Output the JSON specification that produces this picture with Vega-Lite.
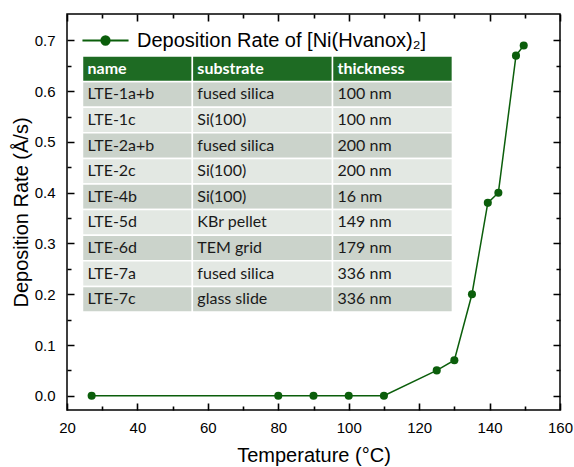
{
  "$schema": "https://vega.github.io/schema/vega-lite/v6.json",
  "width": 493,
  "height": 396,
  "autosize": {"type": "none"},
  "padding": {"left": 67, "top": 14, "right": 14, "bottom": 57},
  "background": "white",
  "config": {
    "view": {"stroke": "#000", "strokeWidth": 1.5},
    "axis": {"domain": false, "labelFont": "Liberation Sans", "labelFontSize": 15, "labelColor": "#000", "titleFont": "Liberation Sans", "titleFontSize": 20, "titleFontWeight": "normal", "titleColor": "#000"}
  },
  "datasets": {
    "rate": [
      {"temperature": 27, "rate": 0, "series": "Deposition Rate of [Ni(Hvanox)₂]"},
      {"temperature": 80, "rate": 0, "series": "Deposition Rate of [Ni(Hvanox)₂]"},
      {"temperature": 90, "rate": 0, "series": "Deposition Rate of [Ni(Hvanox)₂]"},
      {"temperature": 100, "rate": 0, "series": "Deposition Rate of [Ni(Hvanox)₂]"},
      {"temperature": 110, "rate": 0, "series": "Deposition Rate of [Ni(Hvanox)₂]"},
      {"temperature": 125, "rate": 0.05, "series": "Deposition Rate of [Ni(Hvanox)₂]"},
      {"temperature": 130, "rate": 0.07, "series": "Deposition Rate of [Ni(Hvanox)₂]"},
      {"temperature": 135, "rate": 0.2, "series": "Deposition Rate of [Ni(Hvanox)₂]"},
      {"temperature": 139.5, "rate": 0.38, "series": "Deposition Rate of [Ni(Hvanox)₂]"},
      {"temperature": 142.5, "rate": 0.4, "series": "Deposition Rate of [Ni(Hvanox)₂]"},
      {"temperature": 147.5, "rate": 0.67, "series": "Deposition Rate of [Ni(Hvanox)₂]"},
      {"temperature": 149.7, "rate": 0.69, "series": "Deposition Rate of [Ni(Hvanox)₂]"}
    ],
    "samples": [
      {"name": "LTE-1a+b", "substrate": "fused silica", "thickness": "100 nm"},
      {"name": "LTE-1c", "substrate": "Si(100)", "thickness": "100 nm"},
      {"name": "LTE-2a+b", "substrate": "fused silica", "thickness": "200 nm"},
      {"name": "LTE-2c", "substrate": "Si(100)", "thickness": "200 nm"},
      {"name": "LTE-4b", "substrate": "Si(100)", "thickness": "16 nm"},
      {"name": "LTE-5d", "substrate": "KBr pellet", "thickness": "149 nm"},
      {"name": "LTE-6d", "substrate": "TEM grid", "thickness": "179 nm"},
      {"name": "LTE-7a", "substrate": "fused silica", "thickness": "336 nm"},
      {"name": "LTE-7c", "substrate": "glass slide", "thickness": "336 nm"}
    ]
  },
  "layer": [
    {
      "encoding": {"x": {"datum": 24.4, "type": "quantitative", "axis": null}},
      "layer": [
        {"data": {"name": "samples"}, "mark": {"type": "rect", "stroke": "white", "strokeWidth": 1.5},
         "encoding": {"x2": {"datum": 55.6},
           "y": {"field": "name", "type": "nominal", "axis": null, "scale": {"type": "band", "domain": ["header", "LTE-1a+b", "LTE-1c", "LTE-2a+b", "LTE-2c", "LTE-4b", "LTE-5d", "LTE-6d", "LTE-7a", "LTE-7c"], "range": [42, 298], "paddingInner": 0, "paddingOuter": 0}},
           "fill": {"field": "name", "type": "nominal", "legend": null, "scale": {"domain": ["LTE-1a+b", "LTE-1c", "LTE-2a+b", "LTE-2c", "LTE-4b", "LTE-5d", "LTE-6d", "LTE-7a", "LTE-7c"], "range": ["#cbd3cb", "#e3e8e3"]}}}},
        {"data": {"name": "samples"}, "mark": {"type": "text", "align": "left", "baseline": "middle", "dx": 5, "font": "Lato", "fontSize": 16, "color": "#1a1a1a"},
         "encoding": {"y": {"field": "name", "type": "nominal", "axis": null, "scale": {"type": "band", "domain": ["header", "LTE-1a+b", "LTE-1c", "LTE-2a+b", "LTE-2c", "LTE-4b", "LTE-5d", "LTE-6d", "LTE-7a", "LTE-7c"], "range": [42, 298], "paddingInner": 0, "paddingOuter": 0}},
           "text": {"field": "name"}}},
        {"data": {"values": [{}]}, "mark": {"type": "rect", "fill": "#1e6b23", "stroke": "white", "strokeWidth": 1.5},
         "encoding": {"x2": {"datum": 55.6},
           "y": {"datum": "header", "type": "nominal", "axis": null, "scale": {"type": "band", "domain": ["header", "LTE-1a+b", "LTE-1c", "LTE-2a+b", "LTE-2c", "LTE-4b", "LTE-5d", "LTE-6d", "LTE-7a", "LTE-7c"], "range": [42, 298], "paddingInner": 0, "paddingOuter": 0}}}},
        {"data": {"values": [{}]}, "mark": {"type": "text", "text": "name", "align": "left", "baseline": "middle", "dx": 5, "font": "Lato", "fontWeight": "bold", "fontSize": 16, "color": "white"},
         "encoding": {"y": {"datum": "header", "type": "nominal", "axis": null, "scale": {"type": "band", "domain": ["header", "LTE-1a+b", "LTE-1c", "LTE-2a+b", "LTE-2c", "LTE-4b", "LTE-5d", "LTE-6d", "LTE-7a", "LTE-7c"], "range": [42, 298], "paddingInner": 0, "paddingOuter": 0}}}}
      ]
    },
    {
      "encoding": {"x": {"datum": 55.6, "type": "quantitative", "axis": null}},
      "layer": [
        {"data": {"name": "samples"}, "mark": {"type": "rect", "stroke": "white", "strokeWidth": 1.5},
         "encoding": {"x2": {"datum": 95.4},
           "y": {"field": "name", "type": "nominal", "axis": null, "scale": {"type": "band", "domain": ["header", "LTE-1a+b", "LTE-1c", "LTE-2a+b", "LTE-2c", "LTE-4b", "LTE-5d", "LTE-6d", "LTE-7a", "LTE-7c"], "range": [42, 298], "paddingInner": 0, "paddingOuter": 0}},
           "fill": {"field": "name", "type": "nominal", "legend": null, "scale": {"domain": ["LTE-1a+b", "LTE-1c", "LTE-2a+b", "LTE-2c", "LTE-4b", "LTE-5d", "LTE-6d", "LTE-7a", "LTE-7c"], "range": ["#cbd3cb", "#e3e8e3"]}}}},
        {"data": {"name": "samples"}, "mark": {"type": "text", "align": "left", "baseline": "middle", "dx": 5, "font": "Lato", "fontSize": 16, "color": "#1a1a1a"},
         "encoding": {"y": {"field": "name", "type": "nominal", "axis": null, "scale": {"type": "band", "domain": ["header", "LTE-1a+b", "LTE-1c", "LTE-2a+b", "LTE-2c", "LTE-4b", "LTE-5d", "LTE-6d", "LTE-7a", "LTE-7c"], "range": [42, 298], "paddingInner": 0, "paddingOuter": 0}},
           "text": {"field": "substrate"}}},
        {"data": {"values": [{}]}, "mark": {"type": "rect", "fill": "#1e6b23", "stroke": "white", "strokeWidth": 1.5},
         "encoding": {"x2": {"datum": 95.4},
           "y": {"datum": "header", "type": "nominal", "axis": null, "scale": {"type": "band", "domain": ["header", "LTE-1a+b", "LTE-1c", "LTE-2a+b", "LTE-2c", "LTE-4b", "LTE-5d", "LTE-6d", "LTE-7a", "LTE-7c"], "range": [42, 298], "paddingInner": 0, "paddingOuter": 0}}}},
        {"data": {"values": [{}]}, "mark": {"type": "text", "text": "substrate", "align": "left", "baseline": "middle", "dx": 5, "font": "Lato", "fontWeight": "bold", "fontSize": 16, "color": "white"},
         "encoding": {"y": {"datum": "header", "type": "nominal", "axis": null, "scale": {"type": "band", "domain": ["header", "LTE-1a+b", "LTE-1c", "LTE-2a+b", "LTE-2c", "LTE-4b", "LTE-5d", "LTE-6d", "LTE-7a", "LTE-7c"], "range": [42, 298], "paddingInner": 0, "paddingOuter": 0}}}}
      ]
    },
    {
      "encoding": {"x": {"datum": 95.4, "type": "quantitative", "axis": null}},
      "layer": [
        {"data": {"name": "samples"}, "mark": {"type": "rect", "stroke": "white", "strokeWidth": 1.5},
         "encoding": {"x2": {"datum": 129.45},
           "y": {"field": "name", "type": "nominal", "axis": null, "scale": {"type": "band", "domain": ["header", "LTE-1a+b", "LTE-1c", "LTE-2a+b", "LTE-2c", "LTE-4b", "LTE-5d", "LTE-6d", "LTE-7a", "LTE-7c"], "range": [42, 298], "paddingInner": 0, "paddingOuter": 0}},
           "fill": {"field": "name", "type": "nominal", "legend": null, "scale": {"domain": ["LTE-1a+b", "LTE-1c", "LTE-2a+b", "LTE-2c", "LTE-4b", "LTE-5d", "LTE-6d", "LTE-7a", "LTE-7c"], "range": ["#cbd3cb", "#e3e8e3"]}}}},
        {"data": {"name": "samples"}, "mark": {"type": "text", "align": "left", "baseline": "middle", "dx": 5, "font": "Lato", "fontSize": 16, "color": "#1a1a1a"},
         "encoding": {"y": {"field": "name", "type": "nominal", "axis": null, "scale": {"type": "band", "domain": ["header", "LTE-1a+b", "LTE-1c", "LTE-2a+b", "LTE-2c", "LTE-4b", "LTE-5d", "LTE-6d", "LTE-7a", "LTE-7c"], "range": [42, 298], "paddingInner": 0, "paddingOuter": 0}},
           "text": {"field": "thickness"}}},
        {"data": {"values": [{}]}, "mark": {"type": "rect", "fill": "#1e6b23", "stroke": "white", "strokeWidth": 1.5},
         "encoding": {"x2": {"datum": 129.45},
           "y": {"datum": "header", "type": "nominal", "axis": null, "scale": {"type": "band", "domain": ["header", "LTE-1a+b", "LTE-1c", "LTE-2a+b", "LTE-2c", "LTE-4b", "LTE-5d", "LTE-6d", "LTE-7a", "LTE-7c"], "range": [42, 298], "paddingInner": 0, "paddingOuter": 0}}}},
        {"data": {"values": [{}]}, "mark": {"type": "text", "text": "thickness", "align": "left", "baseline": "middle", "dx": 5, "font": "Lato", "fontWeight": "bold", "fontSize": 16, "color": "white"},
         "encoding": {"y": {"datum": "header", "type": "nominal", "axis": null, "scale": {"type": "band", "domain": ["header", "LTE-1a+b", "LTE-1c", "LTE-2a+b", "LTE-2c", "LTE-4b", "LTE-5d", "LTE-6d", "LTE-7a", "LTE-7c"], "range": [42, 298], "paddingInner": 0, "paddingOuter": 0}}}}
      ]
    },
    {
      "data": {"name": "rate"},
      "mark": {"type": "line", "strokeWidth": 1.5, "point": {"filled": true, "size": 65, "opacity": 1}},
      "encoding": {
        "x": {"field": "temperature", "type": "quantitative",
          "scale": {"domain": [20, 160], "nice": false, "zero": false},
          "axis": {"orient": "bottom", "zindex": 1, "values": [20, 30, 40, 50, 60, 70, 80, 90, 100, 110, 120, 130, 140, 150, 160],
            "ticks": false, "tickSize": 0,
            "grid": true, "gridColor": "#000", "gridOpacity": 1, "gridWidth": 1.6,
            "gridDash": {"condition": {"test": "datum.value % 20 === 0", "value": [7, 382, 7]}, "value": [4, 388, 4]},
            "labelExpr": "datum.value % 20 === 0 ? datum.label : ''",
            "labelPadding": 10, "labelFlush": false, "labelOverlap": false,
            "title": "Temperature (°C)", "titlePadding": 10}},
        "y": {"field": "rate", "type": "quantitative",
          "scale": {"domain": [-0.028, 0.752], "nice": false, "zero": false},
          "axis": {"orient": "left", "zindex": 1, "values": [0, 0.05, 0.1, 0.15, 0.2, 0.25, 0.3, 0.35, 0.4, 0.45, 0.5, 0.55, 0.6, 0.65, 0.7],
            "ticks": false, "tickSize": 0,
            "grid": true, "gridColor": "#000", "gridOpacity": 1, "gridWidth": 1.6,
            "gridDash": {"condition": {"test": "abs(round(datum.value * 100)) % 10 === 0", "value": [7, 479, 7]}, "value": [4, 485, 4]},
            "labelExpr": "abs(round(datum.value * 100)) % 10 === 0 ? format(datum.value, '.1f') : ''",
            "labelPadding": 12, "labelFlush": false, "labelOverlap": false,
            "title": "Deposition Rate (Å/s)", "titlePadding": 3}},
        "color": {"field": "series", "type": "nominal", "scale": {"range": ["#0b5e0b"]},
          "legend": {"orient": "top-left", "offset": 16, "padding": 0, "title": null,
            "symbolType": "M-2.5,0H2.5M0.45,0A0.45,0.45,0,1,1,-0.45,0A0.45,0.45,0,1,1,0.45,0",
            "symbolSize": 340, "symbolStrokeWidth": 2, "symbolFillColor": "#0b5e0b", "symbolStrokeColor": "#0b5e0b",
            "symbolOffset": 12, "labelOffset": 21,
            "labelFont": "Liberation Sans", "labelFontSize": 20, "labelColor": "#000", "labelLimit": 400}}
      }
    }
  ],
  "resolve": {"scale": {"y": "independent"}, "axis": {"x": "independent", "y": "independent"}}
}
